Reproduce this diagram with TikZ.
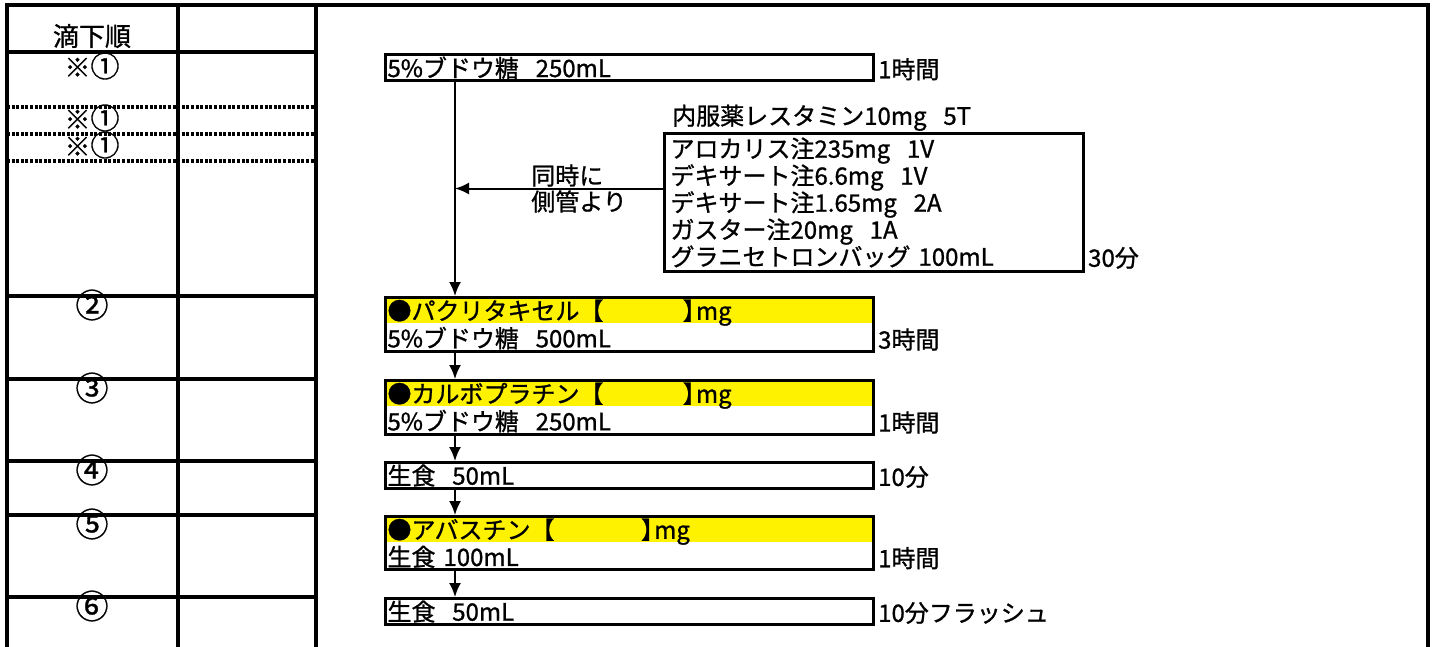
\documentclass[tikz,border=0pt]{standalone}
\usepackage{fontspec}
\setmainfont{Noto Sans CJK JP}[FakeBold=1]
\usetikzlibrary{calc,positioning,arrows.meta}

\newcommand{\dsp}{\hspace{0.7em}}
\newcommand{\bignum}[1]{{\fontsize{33}{33}\selectfont #1}}
\newcommand{\komeone}{{※\fontsize{29}{29}\selectfont ①}}

\begin{document}
\begin{tikzpicture}[x=1pt,y=-1pt,font=\fontsize{24}{26}\selectfont,
  drug/.style={draw,line width=3pt,anchor=north west,align=left,
    text width=484pt,inner xsep=2pt,inner ysep=2pt},
  hilite/.style={drug,path picture={\fill[yellow]
    (path picture bounding box.north west) rectangle
    ([yshift=-25pt]path picture bounding box.north east);}},
  dur/.style={anchor=south west,inner xsep=0pt,inner ysep=2pt,xshift=3pt},
  flow/.style={-{Latex[length=14pt,width=12pt]},line width=2pt},
  tabline/.style={line width=3.5pt},
  dotline/.style={line width=3.5pt,dash pattern=on 3pt off 1.6pt},
  cell/.style={font=\fontsize{26}{28}\selectfont,inner sep=0pt}]
  \useasboundingbox (0,0) rectangle (1438,647);

  % left columns
  \node[cell] (hdr) at (92,36) {滴下順};
  \node[cell] (n1) at (92,66) {\komeone};
  \node[cell] (n1b) at (92,118) {\komeone};
  \node[cell] (n1c) at (92,145) {\komeone};
  \foreach \y/\t [count=\i from 2] in {296/②,379/③,461/④,515/⑤,597/⑥}
    \node[cell] (num\i) at (92,\y+9) {\bignum{\t}};

  \draw[tabline] (7,647) -- (7,5) -- (1428,5) -- (1428,647);
  \draw[tabline] (178,5) -- (178,647);
  \draw[tabline] (316,5) -- (316,647);
  \draw[tabline] (7,52) -- (316,52);
  \foreach \y in {107,134,161}
    \draw[dotline] (7,\y) -- (316,\y);
  \foreach \y in {296,379,461,515,597}
    \draw[tabline] (7,\y) -- (316,\y);

  % drip order
  \node[drug] (b1) at (384,53) {5\%ブドウ糖\dsp 250mL};
  \node[hilite] (b2) at (384,296) {●パクリタキセル【\hspace{3.3em}】\hspace{-0.45em}mg\\5\%ブドウ糖\dsp 500mL};
  \node[hilite] (b3) at (384,379) {●カルボプラチン【\hspace{3.3em}】\hspace{-0.45em}mg\\5\%ブドウ糖\dsp 250mL};
  \node[drug] (b4) at (384,461) {生食\dsp 50mL};
  \node[hilite] (b5) at (384,515) {●アバスチン【\hspace{3.6em}】\hspace{-0.45em}mg\\生食 100mL};
  \node[drug] (b6) at (384,597) {生食\dsp 50mL};

  \node[dur] (t1) at (b1.south east) {1時間};
  \node[dur] (t2) at (b2.south east) {3時間};
  \node[dur] (t3) at (b3.south east) {1時間};
  \node[dur] (t4) at (b4.south east) {10分};
  \node[dur] (t5) at (b5.south east) {1時間};
  \node[dur] (t6) at (b6.south east) {10分フラッシュ};

  % premedication
  \node[drug,text width=407pt,inner xsep=6pt,inner ysep=4pt,
    font=\fontsize{24}{27}\selectfont] (pre) at (663,132)
    {アロカリス注235mg\dsp 1V\\デキサート注6.6mg\dsp 1V\\
     デキサート注1.65mg\dsp 2A\\ガスター注20mg\dsp 1A\\
     グラニセトロンバッグ 100mL};
  \node[anchor=south west,inner sep=0pt] (oral) at ([xshift=9pt,yshift=1pt]pre.north west)
    {内服薬レスタミン10mg\dsp 5T};
  \node[dur,yshift=2pt] (t0) at (pre.south east) {30分};

  \coordinate (trunk) at ([xshift=71pt]b1.south west);
  \coordinate (join) at ([yshift=14pt]pre.west);
  \node[align=left,inner sep=0pt,left=36pt of join] (side) {同時に\\側管より};

  \draw[flow] (trunk) -- (trunk |- b2.north);
  \foreach \a/\b in {b2/b3,b3/b4,b4/b5,b5/b6}
    \draw[flow] (trunk |- \a.south) -- (trunk |- \b.north);
  \draw[flow] (join) -- (join -| trunk);
\end{tikzpicture}
\end{document}
